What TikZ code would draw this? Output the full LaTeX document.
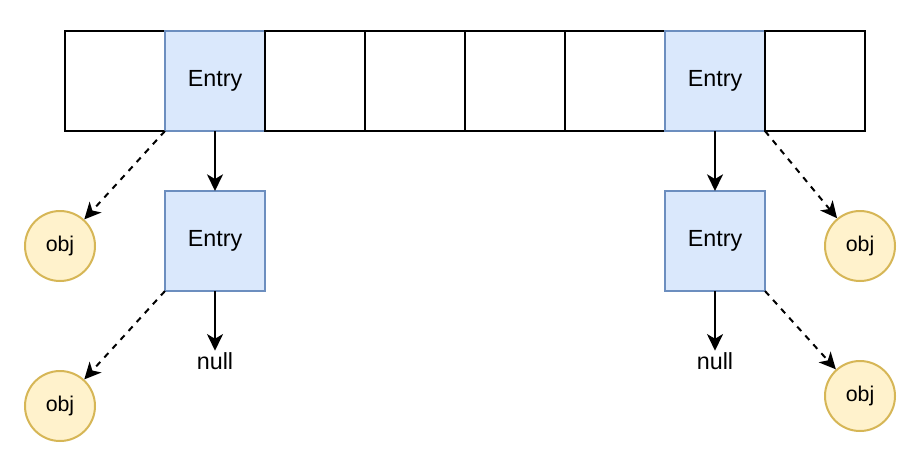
\documentclass[tikz,border=0pt]{standalone}
\usepackage{fontspec}
\setmainfont{Liberation Sans}
\usetikzlibrary{arrows.meta}
\definecolor{entryfill}{HTML}{DAE8FC}
\definecolor{entrydraw}{HTML}{6C8EBF}
\definecolor{objfill}{HTML}{FFF2CC}
\definecolor{objdraw}{HTML}{D6B656}
\begin{document}
\begin{tikzpicture}[x=0.75pt,y=-0.75pt,
  cell/.style={draw=black,fill=white,line width=1.5pt,minimum width=75pt,minimum height=75pt,inner sep=0pt,outer sep=0pt},
  entrycell/.style={draw=entrydraw,fill=entryfill,line width=1.5pt,minimum width=75pt,minimum height=75pt,inner sep=0pt,outer sep=0pt,font=\fontsize{17.5}{21}\selectfont},
  objnode/.style={circle,draw=objdraw,fill=objfill,line width=1.5pt,minimum size=52.5pt,inner sep=0pt,font=\fontsize{16}{19}\selectfont},
  nulltext/.style={inner sep=0pt,font=\fontsize{17.5}{21}\selectfont},
  solidarrow/.style={-{Stealth[length=12.5pt,width=12pt,inset=3.5pt]},line width=1.5pt},
  dasharrow/.style={-{Stealth[length=12.5pt,width=12pt,inset=3.5pt]},line width=1.5pt,dash pattern=on 4.5pt off 4.5pt}]
\useasboundingbox (0,0) rectangle (920,468);
\node[cell] (c1) at (115,81) {};
\node[entrycell] (c2) at (215,81) {Entry};
\node[cell] (c3) at (315,81) {};
\node[cell] (c4) at (415,81) {};
\node[cell] (c5) at (515,81) {};
\node[cell] (c6) at (615,81) {};
\node[entrycell] (c7) at (715,81) {Entry};
\node[cell] (c8) at (815,81) {};
\node[entrycell] (e1) at (215,241) {Entry};
\node[entrycell] (e2) at (715,241) {Entry};
\node[objnode] (o1) at (60,246) {obj};
\node[objnode] (o2) at (60,406) {obj};
\node[objnode] (o3) at (860,246) {obj};
\node[objnode] (o4) at (860,396) {obj};
\node[nulltext,minimum height=15pt] (n1) at (215,361) {null};
\node[nulltext,minimum height=15pt] (n2) at (715,361) {null};
\draw[solidarrow] (c2.south) -- (e1.north);
\draw[solidarrow] (c7.south) -- (e2.north);
\draw[solidarrow] (e1.south) -- (n1.north);
\draw[solidarrow] (e2.south) -- (n2.north);
\draw[dasharrow] (c2.south west) -- (o1);
\draw[dasharrow] (e1.south west) -- (o2);
\draw[dasharrow] (c7.south east) -- (o3);
\draw[dasharrow] (e2.south east) -- (o4);
\end{tikzpicture}
\end{document}
